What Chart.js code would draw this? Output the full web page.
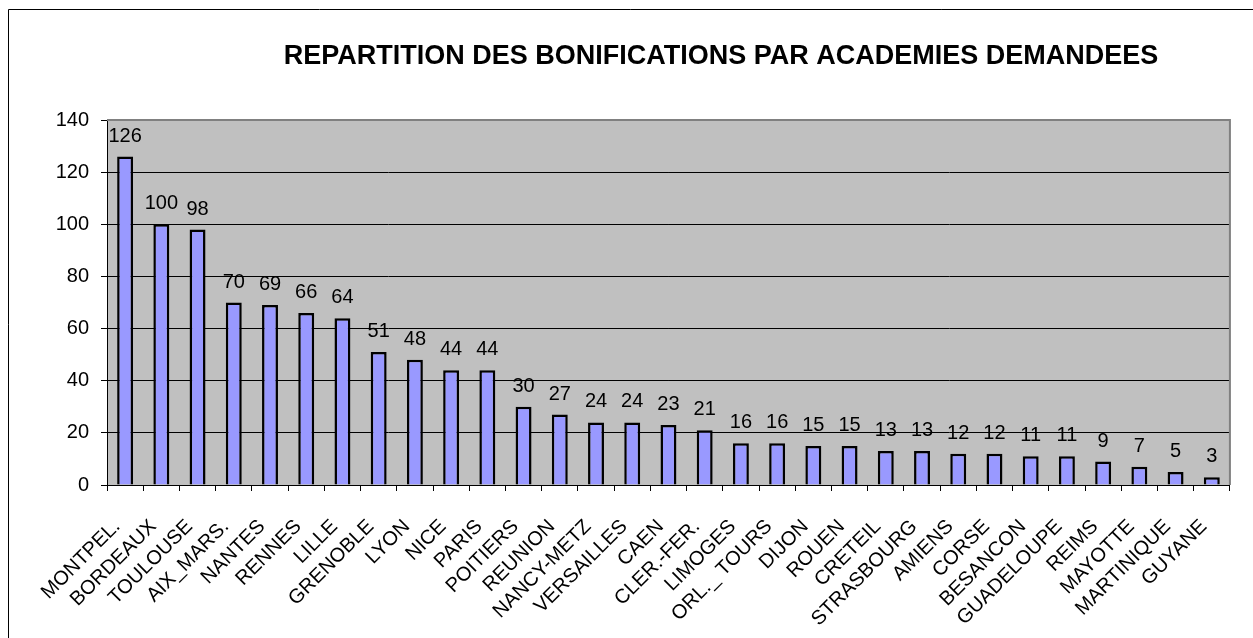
<!DOCTYPE html>
<html>
<head>
<meta charset="utf-8">
<script src="https://cdn.jsdelivr.net/npm/chart.js@4/dist/chart.umd.min.js"></script>
<style>
  html, body { margin: 0; padding: 0; background: #fff; }
  #wrap { width: 1253px; height: 638px; }
</style>
</head>
<body>
<div id="wrap"><canvas id="chart"></canvas></div>
<script>
const academies = ['MONTPEL.', 'BORDEAUX', 'TOULOUSE', 'AIX_MARS.', 'NANTES', 'RENNES', 'LILLE',
  'GRENOBLE', 'LYON', 'NICE', 'PARIS', 'POITIERS', 'REUNION', 'NANCY-METZ', 'VERSAILLES', 'CAEN',
  'CLER.-FER.', 'LIMOGES', 'ORL._ TOURS', 'DIJON', 'ROUEN', 'CRETEIL', 'STRASBOURG', 'AMIENS',
  'CORSE', 'BESANCON', 'GUADELOUPE', 'REIMS', 'MAYOTTE', 'MARTINIQUE', 'GUYANE'];
const bonifications = [126, 100, 98, 70, 69, 66, 64, 51, 48, 44, 44, 30, 27, 24, 24, 23, 21,
  16, 16, 15, 15, 13, 13, 12, 12, 11, 11, 9, 7, 5, 3];
const yTicks = [0, 20, 40, 60, 80, 100, 120, 140];
const chartTitle = 'REPARTITION DES BONIFICATIONS PAR ACADEMIES DEMANDEES';

const FONT = 'Liberation Sans, Arial, sans-serif';

// fond gris, cadre, titre et étiquettes de valeurs
const excelLook = {
  id: 'excelLook',
  beforeDraw(chart) {
    const { ctx, chartArea: a } = chart;
    ctx.save();
    ctx.fillStyle = '#c0c0c0';
    ctx.fillRect(a.left, a.top, a.right - a.left, a.bottom - a.top);
    // cadre extérieur (haut et gauche seulement visibles)
    ctx.strokeStyle = '#000';
    ctx.lineWidth = 1;
    ctx.beginPath();
    ctx.moveTo(8.5, 640);
    ctx.lineTo(8.5, 9.5);
    ctx.lineTo(1253, 9.5);
    ctx.stroke();
    ctx.fillStyle = '#000';
    ctx.font = 'bold 27px ' + FONT;
    ctx.textAlign = 'center';
    ctx.textBaseline = 'middle';
    ctx.fillText(chartTitle, 721, 57);
    ctx.restore();
  },
  afterDatasetsDraw(chart) {
    const { ctx, chartArea: a } = chart;
    ctx.save();
    ctx.strokeStyle = '#808080';
    ctx.lineWidth = 2;
    ctx.beginPath();
    ctx.moveTo(a.left, a.top);
    ctx.lineTo(a.right, a.top);
    ctx.lineTo(a.right, a.bottom);
    ctx.stroke();
    ctx.fillStyle = '#000';
    ctx.font = '20px ' + FONT;
    ctx.textAlign = 'center';
    ctx.textBaseline = 'alphabetic';
    chart.getDatasetMeta(0).data.forEach((bar, i) => {
      ctx.fillText(String(bonifications[i]), bar.x, bar.y - 15);
    });
    ctx.restore();
  }
};

new Chart(document.getElementById('chart'), {
  type: 'bar',
  data: {
    labels: academies,
    datasets: [{
      data: bonifications,
      backgroundColor: '#9999ff',
      borderColor: '#000',
      borderWidth: 2.5,
      borderSkipped: 'bottom',
      barPercentage: 0.44,
      categoryPercentage: 1
    }]
  },
  options: {
    responsive: true,
    maintainAspectRatio: false,
    animation: false,
    layout: { padding: { top: 120, right: 14, left: 0, bottom: 0 } },
    plugins: {
      legend: { display: false },
      title: { display: false },
      tooltip: { enabled: false }
    },
    scales: {
      x: {
        afterFit(scale) { scale.height = 153; },
        grid: { offset: true, drawOnChartArea: false, drawTicks: true, tickLength: 6, color: '#000' },
        border: { color: '#000', width: 1 },
        ticks: {
          color: '#000',
          font: { family: FONT, size: 20 },
          maxRotation: 45,
          minRotation: 45,
          autoSkip: false,
          labelOffset: -8,
          padding: 24
        }
      },
      y: {
        min: 0,
        max: 140,
        afterFit(scale) { scale.width = 107; },
        afterBuildTicks(scale) { scale.ticks = yTicks.map(v => ({ value: v })); },
        grid: { color: '#000', tickLength: 6, lineWidth: 1 },
        border: { color: '#000', width: 1 },
        ticks: {
          color: '#000',
          font: { family: FONT, size: 20 },
          padding: 12
        }
      }
    }
  },
  plugins: [excelLook]
});
</script>
</body>
</html>
